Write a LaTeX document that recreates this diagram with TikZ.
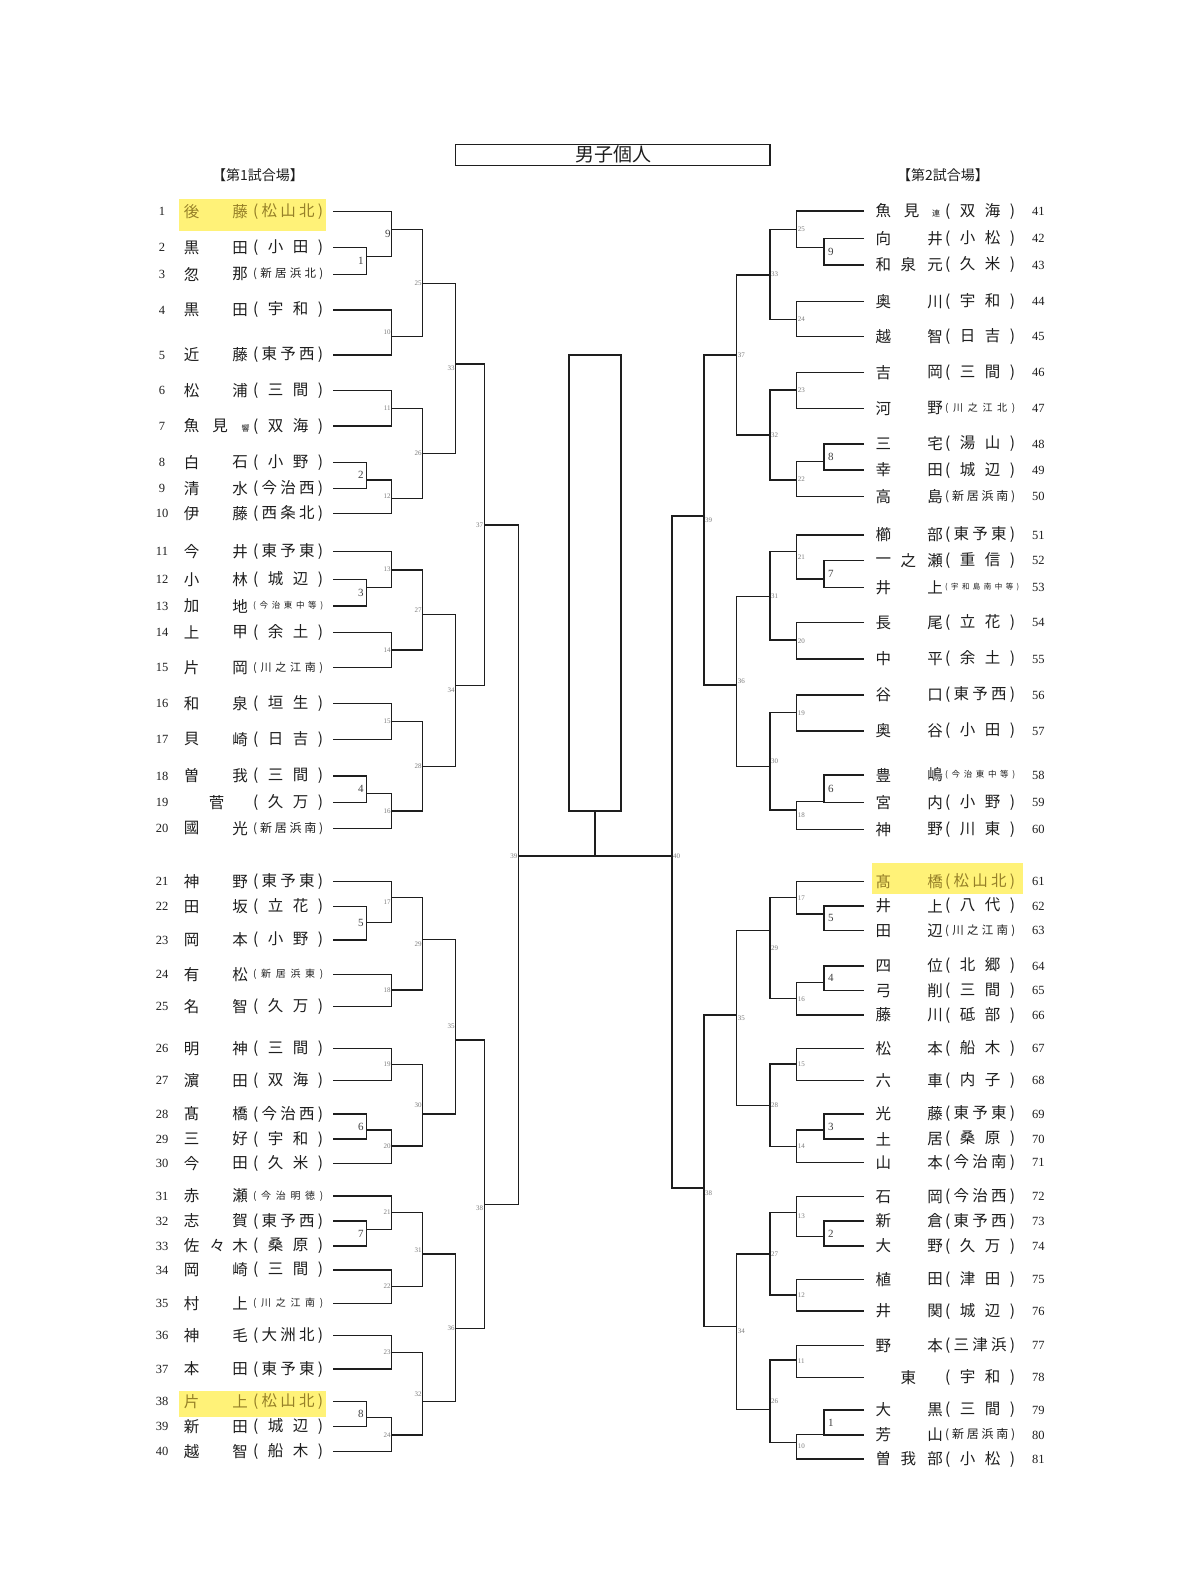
\documentclass[tikz,border=0pt]{standalone}
\usepackage{fontspec}
\setmainfont{Liberation Serif}
\newfontfamily\jp{Noto Sans CJK JP}
\usetikzlibrary{calc}
\definecolor{hlbg}{RGB}{255,242,120}
\definecolor{hltxt}{RGB}{150,128,40}
\definecolor{ink}{RGB}{30,30,30}
\definecolor{lblgray}{RGB}{125,125,125}
\newcommand\stwo[2]{\makebox[70pt]{(\hfill#1\hfill#2\hfill)}}
\newcommand\sthree[3]{\makebox[70pt]{(\hfill#1\hfill#2\hfill#3\hfill)}}
\newcommand\sfour[5]{\makebox[70pt]{\fontsize{#1}{#1}\selectfont(\hfill#2\hfill#3\hfill#4\hfill#5\hfill)}}
\newcommand\sfive[6]{\makebox[70pt]{\fontsize{#1}{#1}\selectfont(\hfill#2\hfill#3\hfill#4\hfill#5\hfill#6\hfill)}}
\newcommand\ssix[7]{\makebox[74pt]{\fontsize{#1}{#1}\selectfont(\hfill#2\hfill#3\hfill#4\hfill#5\hfill#6\hfill#7\hfill)}}
\tikzset{
  nm/.style={font=\jp\fontsize{15.5}{15.5}\selectfont, inner sep=0pt, text=ink},
  sch/.style={font=\jp\fontsize{15.5}{15.5}\selectfont, inner sep=0pt, text=ink},
  small/.style={font=\jp\fontsize{8}{8}\selectfont, inner sep=0pt, text=ink},
  num/.style={font=\fontsize{12.5}{12.5}\selectfont, inner sep=0pt, text=ink},
  hl/.style={text=hltxt},
  br/.style={draw=ink, line width=1.3pt},
  lbs/.style={font=\fontsize{7}{7}\selectfont, text=lblgray, inner sep=1pt},
  lbb/.style={font=\fontsize{11}{11}\selectfont, text=ink!85, inner sep=1pt},
  hdr/.style={font=\jp\fontsize{14}{14}\selectfont, inner sep=0pt, text=ink},
}
\newcommand\Lrow[7][]{%
  \node[num] (#2n) at (162,#3) {#4};
  \node[nm,#1] (#2a) at (191.7,#3) {#5};
  \node[nm,#1] (#2b) at (240,#3) {#6};
  \node[sch,#1,anchor=west] (#2s) at (253,#3) {#7};
  \coordinate (#2) at (333,#3);
}
\newcommand\Rrow[7][]{%
  \node[nm,#1] (#2a) at (883.3,#3) {#5};
  \node[nm,#1] (#2b) at (935,#3) {#6};
  \node[sch,#1,anchor=west] (#2s) at (945,#3) {#7};
  \node[num] (#2n) at (1038.3,#3) {#4};
  \coordinate (#2) at (864,#3);
}
\newcommand\LM[5][lbs]{%
  \draw[br] (#3) -- (#3 -| #2) -- (#4 -| #2) -- (#4);
  \node[#1,anchor=east] (#2t) at ($(#3 -| #2)!0.5!(#4 -| #2)$) {#5};
}
\newcommand\RM[5][lbs]{%
  \draw[br] (#3) -- (#3 -| #2) -- (#4 -| #2) -- (#4);
  \node[#1,anchor=west] (#2t) at ($(#3 -| #2)!0.5!(#4 -| #2)$) {#5};
}
\begin{document}
\begin{tikzpicture}[x=1pt,y=-1pt]
\useasboundingbox (0,0) rectangle (1200,1580);
\fill[white] (0,0) rectangle (1200,1580);
% highlights
\fill[hlbg] (179,199.3) rectangle (325.7,230.7);
\fill[hlbg] (179,1390.7) rectangle (325.7,1416.7);
\fill[hlbg] (872,862.7) rectangle (1023.3,894.3);
% title and headers
\node[draw=ink, line width=1.2pt, minimum width=314.3pt, minimum height=21.4pt, inner sep=0pt] (titlebox) at (612.85,155) {};
\node[font=\jp\fontsize{19}{19}\selectfont, inner sep=0pt, text=ink] (title) at (613.3,154.5) {男子個人};
\node[hdr] (h1) at (258,175) {【第1試合場】};
\node[hdr] (h2) at (943,175) {【第2試合場】};
% left players
\Lrow[hl]{p1}{211.7}{1}{後}{藤}{\sthree{松}{山}{北}}
\Lrow{p2}{247.7}{2}{黒}{田}{\stwo{小}{田}}
\Lrow{p3}{274.3}{3}{忽}{那}{\sfour{11.5}{新}{居}{浜}{北}}
\Lrow{p4}{310}{4}{黒}{田}{\stwo{宇}{和}}
\Lrow{p5}{355}{5}{近}{藤}{\sthree{東}{予}{西}}
\Lrow{p6}{390.7}{6}{松}{浦}{\stwo{三}{間}}
\Lrow{p7}{426}{7}{魚}{}{\stwo{双}{海}}
\node[nm] (p7m) at (220,426) {見};
\node[small] (p7x) at (245.5,428) {響};
\Lrow{p8}{462.3}{8}{白}{石}{\stwo{小}{野}}
\Lrow{p9}{488.3}{9}{清}{水}{\sthree{今}{治}{西}}
\Lrow{p10}{513.3}{10}{伊}{藤}{\sthree{西}{条}{北}}
\Lrow{p11}{551.7}{11}{今}{井}{\sthree{東}{予}{東}}
\Lrow{p12}{579.3}{12}{小}{林}{\stwo{城}{辺}}
\Lrow{p13}{606}{13}{加}{地}{\sfive{8.5}{今}{治}{東}{中}{等}}
\Lrow{p14}{632.3}{14}{上}{甲}{\stwo{余}{土}}
\Lrow{p15}{667.7}{15}{片}{岡}{\sfour{11}{川}{之}{江}{南}}
\Lrow{p16}{703.7}{16}{和}{泉}{\stwo{垣}{生}}
\Lrow{p17}{739.3}{17}{貝}{崎}{\stwo{日}{吉}}
\Lrow{p18}{776}{18}{曽}{我}{\stwo{三}{間}}
\Lrow{p19}{802.3}{19}{}{}{\stwo{久}{万}}
\node[nm] (p19m) at (216.7,802.3) {菅};
\Lrow{p20}{828.3}{20}{國}{光}{\sfour{12}{新}{居}{浜}{南}}
\Lrow{p21}{881.7}{21}{神}{野}{\sthree{東}{予}{東}}
\Lrow{p22}{906.7}{22}{田}{坂}{\stwo{立}{花}}
\Lrow{p23}{940}{23}{岡}{本}{\stwo{小}{野}}
\Lrow{p24}{974.3}{24}{有}{松}{\sfour{10}{新}{居}{浜}{東}}
\Lrow{p25}{1006.7}{25}{名}{智}{\stwo{久}{万}}
\Lrow{p26}{1048.7}{26}{明}{神}{\stwo{三}{間}}
\Lrow{p27}{1080.7}{27}{濵}{田}{\stwo{双}{海}}
\Lrow{p28}{1114}{28}{髙}{橋}{\sthree{今}{治}{西}}
\Lrow{p29}{1139}{29}{三}{好}{\stwo{宇}{和}}
\Lrow{p30}{1163.3}{30}{今}{田}{\stwo{久}{米}}
\Lrow{p31}{1196}{31}{赤}{瀬}{\sfour{10}{今}{治}{明}{徳}}
\Lrow{p32}{1221}{32}{志}{賀}{\sthree{東}{予}{西}}
\Lrow{p33}{1246}{33}{佐}{木}{\stwo{桑}{原}}
\node[nm] (p33m) at (217.3,1246) {々};
\Lrow{p34}{1270}{34}{岡}{崎}{\stwo{三}{間}}
\Lrow{p35}{1303.3}{35}{村}{上}{\sfour{10}{川}{之}{江}{南}}
\Lrow{p36}{1335.7}{36}{神}{毛}{\sthree{大}{洲}{北}}
\Lrow{p37}{1369}{37}{本}{田}{\sthree{東}{予}{東}}
\Lrow[hl]{p38}{1401.7}{38}{片}{上}{\sthree{松}{山}{北}}
\Lrow{p39}{1426.7}{39}{新}{田}{\stwo{城}{辺}}
\Lrow{p40}{1451.7}{40}{越}{智}{\stwo{船}{木}}
% right players
\Rrow{p41}{211}{41}{魚}{}{\stwo{双}{海}}
\node[nm] (p41m) at (911.7,211) {見};
\node[small] (p41x) at (936,213) {連};
\Rrow{p42}{238.3}{42}{向}{井}{\stwo{小}{松}}
\Rrow{p43}{265}{43}{和}{元}{\stwo{久}{米}}
\node[nm] (p43m) at (908.3,265) {泉};
\Rrow{p44}{301.7}{44}{奥}{川}{\stwo{宇}{和}}
\Rrow{p45}{336.7}{45}{越}{智}{\stwo{日}{吉}}
\Rrow{p46}{372.3}{46}{吉}{岡}{\stwo{三}{間}}
\Rrow{p47}{408.3}{47}{河}{野}{\sfour{10}{川}{之}{江}{北}}
\Rrow{p48}{444}{48}{三}{宅}{\stwo{湯}{山}}
\Rrow{p49}{470}{49}{幸}{田}{\stwo{城}{辺}}
\Rrow{p50}{496.7}{50}{高}{島}{\sfour{12}{新}{居}{浜}{南}}
\Rrow{p51}{535}{51}{櫛}{部}{\sthree{東}{予}{東}}
\Rrow{p52}{560.7}{52}{一}{瀬}{\stwo{重}{信}}
\node[nm] (p52m) at (908.3,560.7) {之};
\Rrow{p53}{587.3}{53}{井}{上}{\ssix{7.5}{宇}{和}{島}{南}{中}{等}}
\Rrow{p54}{622.7}{54}{長}{尾}{\stwo{立}{花}}
\Rrow{p55}{659}{55}{中}{平}{\stwo{余}{土}}
\Rrow{p56}{695}{56}{谷}{口}{\sthree{東}{予}{西}}
\Rrow{p57}{731}{57}{奥}{谷}{\stwo{小}{田}}
\Rrow{p58}{775}{58}{豊}{嶋}{\sfive{8.5}{今}{治}{東}{中}{等}}
\Rrow{p59}{802.7}{59}{宮}{内}{\stwo{小}{野}}
\Rrow{p60}{829.3}{60}{神}{野}{\stwo{川}{東}}
\Rrow[hl]{p61}{881.7}{61}{髙}{橋}{\sthree{松}{山}{北}}
\Rrow{p62}{906}{62}{井}{上}{\stwo{八}{代}}
\Rrow{p63}{930.7}{63}{田}{辺}{\sfour{11.5}{川}{之}{江}{南}}
\Rrow{p64}{966}{64}{四}{位}{\stwo{北}{郷}}
\Rrow{p65}{990.7}{65}{弓}{削}{\stwo{三}{間}}
\Rrow{p66}{1015}{66}{藤}{川}{\stwo{砥}{部}}
\Rrow{p67}{1048.3}{67}{松}{本}{\stwo{船}{木}}
\Rrow{p68}{1080.7}{68}{六}{車}{\stwo{内}{子}}
\Rrow{p69}{1114}{69}{光}{藤}{\sthree{東}{予}{東}}
\Rrow{p70}{1139}{70}{土}{居}{\stwo{桑}{原}}
\Rrow{p71}{1162.7}{71}{山}{本}{\sthree{今}{治}{南}}
\Rrow{p72}{1196.7}{72}{石}{岡}{\sthree{今}{治}{西}}
\Rrow{p73}{1221}{73}{新}{倉}{\sthree{東}{予}{西}}
\Rrow{p74}{1246}{74}{大}{野}{\stwo{久}{万}}
\Rrow{p75}{1279.3}{75}{植}{田}{\stwo{津}{田}}
\Rrow{p76}{1311}{76}{井}{関}{\stwo{城}{辺}}
\Rrow{p77}{1345.7}{77}{野}{本}{\sthree{三}{津}{浜}}
\Rrow{p78}{1377.3}{78}{}{}{\stwo{宇}{和}}
\node[nm] (p78m) at (908.3,1377.3) {東};
\Rrow{p79}{1410}{79}{大}{黒}{\stwo{三}{間}}
\Rrow{p80}{1435}{80}{芳}{山}{\sfour{12}{新}{居}{浜}{南}}
\Rrow{p81}{1459}{81}{曽}{部}{\stwo{小}{松}}
\node[nm] (p81m) at (908.3,1459) {我};
% left match points
\foreach \n/\y in {1/256.3,2/480,3/587.7,4/793.3,5/922.7,6/1130,7/1229.3,8/1417.7}
  \coordinate (L\n) at (366.7,\y);
\foreach \n/\y in {9/229.3,10/336.7,11/408.3,12/498.3,13/570,14/650,15/721.7,16/811,17/897.7,18/990,19/1064.3,20/1146,21/1212.7,22/1286.7,23/1352.7,24/1435}
  \coordinate (L\n) at (391.7,\y);
\foreach \n/\y in {25/283.3,26/453.3,27/614.3,28/766.7,29/939.3,30/1114,31/1254,32/1401.7}
  \coordinate (L\n) at (422.7,\y);
\foreach \n/\y in {33/364,34/685.7,35/1040,36/1328.3}
  \coordinate (L\n) at (455.7,\y);
\coordinate (L37) at (484.3,525);
\coordinate (L38) at (484.3,1204.5);
\coordinate (L39) at (518.5,856);
% right match points
\foreach \n/\y in {9/247.7,8/461.7,7/579,6/801.7,5/914,4/982.7,3/1130,2/1236.7,1/1434.3}
  \coordinate (R\n) at (824,\y);
\foreach \n/\y in {25/229.3,24/319.3,23/390,22/480,21/551.7,20/640,19/712.7,18/810,17/897.7,16/998.3,15/1064,14/1146.7,13/1212.7,12/1295,11/1360,10/1442.7}
  \coordinate (R\n) at (796.7,\y);
\foreach \n/\y in {33/275,32/435,31/596.7,30/766.7,29/930.7,28/1105.7,27/1254,26/1409.3}
  \coordinate (R\n) at (770,\y);
\foreach \n/\y in {37/355,36/685,35/1015,34/1326.7}
  \coordinate (R\n) at (736.7,\y);
\coordinate (R39) at (704,516);
\coordinate (R38) at (704,1188);
\coordinate (R40) at (672,856);
% left bracket
\LM[lbb,xshift=-2pt]{L1}{p2}{p3}{1}
\LM[lbb,xshift=-2pt]{L2}{p8}{p9}{2}
\LM[lbb,xshift=-2pt]{L3}{p12}{p13}{3}
\LM[lbb,xshift=-2pt]{L4}{p18}{p19}{4}
\LM[lbb,xshift=-2pt]{L5}{p22}{p23}{5}
\LM[lbb,xshift=-2pt]{L6}{p28}{p29}{6}
\LM[lbb,xshift=-2pt]{L7}{p32}{p33}{7}
\LM[lbb,xshift=-2pt]{L8}{p38}{p39}{8}
\LM[lbb]{L9}{p1}{L1}{9}
\LM{L10}{p4}{p5}{10}
\LM{L11}{p6}{p7}{11}
\LM{L12}{L2}{p10}{12}
\LM{L13}{p11}{L3}{13}
\LM{L14}{p14}{p15}{14}
\LM{L15}{p16}{p17}{15}
\LM{L16}{L4}{p20}{16}
\LM{L17}{p21}{L5}{17}
\LM{L18}{p24}{p25}{18}
\LM{L19}{p26}{p27}{19}
\LM{L20}{L6}{p30}{20}
\LM{L21}{p31}{L7}{21}
\LM{L22}{p34}{p35}{22}
\LM{L23}{p36}{p37}{23}
\LM{L24}{L8}{p40}{24}
\LM{L25}{L9}{L10}{25}
\LM{L26}{L11}{L12}{26}
\LM{L27}{L13}{L14}{27}
\LM{L28}{L15}{L16}{28}
\LM{L29}{L17}{L18}{29}
\LM{L30}{L19}{L20}{30}
\LM{L31}{L21}{L22}{31}
\LM{L32}{L23}{L24}{32}
\LM{L33}{L25}{L26}{33}
\LM{L34}{L27}{L28}{34}
\LM{L35}{L29}{L30}{35}
\LM{L36}{L31}{L32}{36}
\LM{L37}{L33}{L34}{37}
\draw[br] (L35) -- (L35 -| L38) -- (L36 -| L38) -- (L36);
\node[lbs,anchor=east] (L38t) at ([yshift=-4pt]L38) {38};
\draw[br] (L37) -- (L37 -| L39) -- (L38 -| L39) -- (L38);
\node[lbs,anchor=east] (L39t) at (L39) {39};
% right bracket
\RM[lbb,xshift=3pt]{R9}{p42}{p43}{9}
\RM[lbb,xshift=3pt]{R8}{p48}{p49}{8}
\RM[lbb,xshift=3pt]{R7}{p52}{p53}{7}
\RM[lbb,xshift=3pt]{R6}{p58}{p59}{6}
\RM[lbb,xshift=3pt]{R5}{p62}{p63}{5}
\RM[lbb,xshift=3pt]{R4}{p64}{p65}{4}
\RM[lbb,xshift=3pt]{R3}{p69}{p70}{3}
\RM[lbb,xshift=3pt]{R2}{p73}{p74}{2}
\RM[lbb,xshift=3pt]{R1}{p79}{p80}{1}
\RM{R25}{p41}{R9}{25}
\RM{R24}{p44}{p45}{24}
\RM{R23}{p46}{p47}{23}
\RM{R22}{R8}{p50}{22}
\RM{R21}{p51}{R7}{21}
\RM{R20}{p54}{p55}{20}
\RM{R19}{p56}{p57}{19}
\RM{R18}{R6}{p60}{18}
\RM{R17}{p61}{R5}{17}
\RM{R16}{R4}{p66}{16}
\RM{R15}{p67}{p68}{15}
\RM{R14}{R3}{p71}{14}
\RM{R13}{p72}{R2}{13}
\RM{R12}{p75}{p76}{12}
\RM{R11}{p77}{p78}{11}
\RM{R10}{R1}{p81}{10}
\RM{R33}{R25}{R24}{33}
\RM{R32}{R23}{R22}{32}
\RM{R31}{R21}{R20}{31}
\RM{R30}{R19}{R18}{30}
\RM{R29}{R17}{R16}{29}
\RM{R28}{R15}{R14}{28}
\RM{R27}{R13}{R12}{27}
\RM{R26}{R11}{R10}{26}
\RM{R37}{R33}{R32}{37}
\RM{R36}{R31}{R30}{36}
\RM{R35}{R29}{R28}{35}
\RM{R34}{R27}{R26}{34}
\RM{R39}{R37}{R36}{39}
\draw[br] (R35) -- (R35 -| R38) -- (R34 -| R38) -- (R34);
\node[lbs,anchor=west] (R38t) at ([yshift=-5pt]R38) {38};
\draw[br] (R39) -- (R39 -| R40) -- (R38 -| R40) -- (R38);
\node[lbs,anchor=west] (R40t) at (R40) {40};
% final
\node[draw=ink, line width=1.3pt, minimum width=52pt, minimum height=456pt, inner sep=0pt] (finalbox) at (595,583) {};
\coordinate (stem) at (595,856);
\draw[br] (L39) -- (R40);
\draw[br] (stem) -- (finalbox.south);
\end{tikzpicture}
\end{document}
